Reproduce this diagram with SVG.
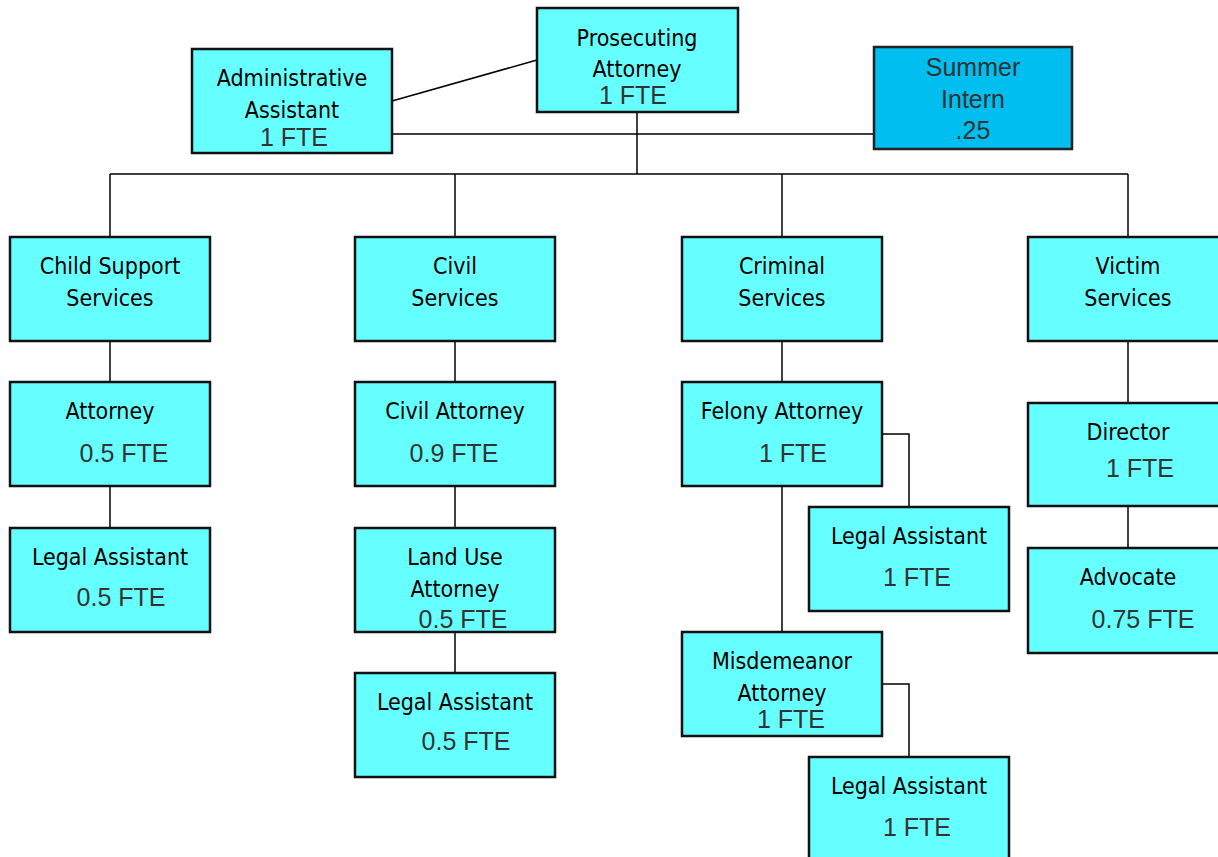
<svg xmlns="http://www.w3.org/2000/svg" width="1218" height="857" viewBox="0 0 1218 857">
<style>
.box{fill:#66FFFF;stroke:#111;stroke-width:2.5}
.intern{fill:#00BEF0;stroke:#222;stroke-width:2.5}
.t{font-family:"DejaVu Sans Condensed","DejaVu Sans",sans-serif;font-stretch:condensed;font-size:23px;fill:#000;text-anchor:middle}
.f{font-family:"Liberation Sans",Arial,sans-serif;font-size:25px;fill:#333;text-anchor:middle}
.c line,.c polyline{stroke:#000;stroke-width:1.5;fill:none}
</style>
<rect width="1218" height="857" fill="#fff"/>
<g class="c">
<line x1="392" y1="101" x2="537" y2="60"/>
<line x1="392" y1="134" x2="874" y2="134"/>
<line x1="637" y1="112" x2="637" y2="174"/>
<line x1="110" y1="174" x2="1128" y2="174"/>
<line x1="110" y1="174" x2="110" y2="237"/>
<line x1="455" y1="174" x2="455" y2="237"/>
<line x1="782" y1="174" x2="782" y2="237"/>
<line x1="1128" y1="174" x2="1128" y2="237"/>
<line x1="110" y1="341" x2="110" y2="382"/>
<line x1="110" y1="486" x2="110" y2="528"/>
<line x1="455" y1="341" x2="455" y2="382"/>
<line x1="455" y1="486" x2="455" y2="528"/>
<line x1="455" y1="632" x2="455" y2="673"/>
<line x1="782" y1="341" x2="782" y2="382"/>
<line x1="782" y1="486" x2="782" y2="632"/>
<polyline points="882,434 909,434 909,507"/>
<polyline points="882,684 909,684 909,757"/>
<line x1="1128" y1="341" x2="1128" y2="403"/>
<line x1="1128" y1="506" x2="1128" y2="548"/>
</g>
<g id="prosecuting-attorney"><rect class="box" x="537" y="8" width="201" height="104"/><text class="t" x="637" y="46">Prosecuting</text><text class="t" x="637" y="77">Attorney</text><text class="f" x="633" y="104">1 FTE</text></g>
<g id="admin-assistant"><rect class="box" x="192" y="49" width="200" height="104"/><text class="t" x="292" y="86">Administrative</text><text class="t" x="292" y="118">Assistant</text><text class="f" x="294" y="146">1 FTE</text></g>
<g id="summer-intern"><rect class="intern" x="874" y="47" width="198" height="102"/><text class="f" x="973" y="76">Summer</text><text class="f" x="973" y="108">Intern</text><text class="f" x="973" y="139">.25</text></g>
<g id="child-support"><rect class="box" x="10" y="237" width="200" height="104"/><text class="t" x="110" y="274">Child Support</text><text class="t" x="110" y="306">Services</text></g>
<g id="civil-services"><rect class="box" x="355" y="237" width="200" height="104"/><text class="t" x="455" y="274">Civil</text><text class="t" x="455" y="306">Services</text></g>
<g id="criminal-services"><rect class="box" x="682" y="237" width="200" height="104"/><text class="t" x="782" y="274">Criminal</text><text class="t" x="782" y="306">Services</text></g>
<g id="victim-services"><rect class="box" x="1028" y="237" width="200" height="104"/><text class="t" x="1128" y="274">Victim</text><text class="t" x="1128" y="306">Services</text></g>
<g id="cs-attorney"><rect class="box" x="10" y="382" width="200" height="104"/><text class="t" x="110" y="419">Attorney</text><text class="f" x="124" y="462">0.5 FTE</text></g>
<g id="civil-attorney"><rect class="box" x="355" y="382" width="200" height="104"/><text class="t" x="455" y="419">Civil Attorney</text><text class="f" x="454" y="462">0.9 FTE</text></g>
<g id="felony-attorney"><rect class="box" x="682" y="382" width="200" height="104"/><text class="t" x="782" y="419">Felony Attorney</text><text class="f" x="793" y="462">1 FTE</text></g>
<g id="director"><rect class="box" x="1028" y="403" width="200" height="103"/><text class="t" x="1128" y="440">Director</text><text class="f" x="1140" y="477">1 FTE</text></g>
<g id="cs-legal-assistant"><rect class="box" x="10" y="528" width="200" height="104"/><text class="t" x="110" y="565">Legal Assistant</text><text class="f" x="121" y="606">0.5 FTE</text></g>
<g id="land-use-attorney"><rect class="box" x="355" y="528" width="200" height="104"/><text class="t" x="455" y="565">Land Use</text><text class="t" x="455" y="597">Attorney</text><text class="f" x="463" y="628">0.5 FTE</text></g>
<g id="felony-legal-assistant"><rect class="box" x="809" y="507" width="200" height="104"/><text class="t" x="909" y="544">Legal Assistant</text><text class="f" x="917" y="586">1 FTE</text></g>
<g id="advocate"><rect class="box" x="1028" y="548" width="200" height="105"/><text class="t" x="1128" y="585">Advocate</text><text class="f" x="1143" y="628">0.75 FTE</text></g>
<g id="civil-legal-assistant"><rect class="box" x="355" y="673" width="200" height="104"/><text class="t" x="455" y="710">Legal Assistant</text><text class="f" x="466" y="750">0.5 FTE</text></g>
<g id="misdemeanor-attorney"><rect class="box" x="682" y="632" width="200" height="104"/><text class="t" x="782" y="669">Misdemeanor</text><text class="t" x="782" y="701">Attorney</text><text class="f" x="791" y="728">1 FTE</text></g>
<g id="misd-legal-assistant"><rect class="box" x="809" y="757" width="200" height="110"/><text class="t" x="909" y="794">Legal Assistant</text><text class="f" x="917" y="836">1 FTE</text></g>
</svg>
